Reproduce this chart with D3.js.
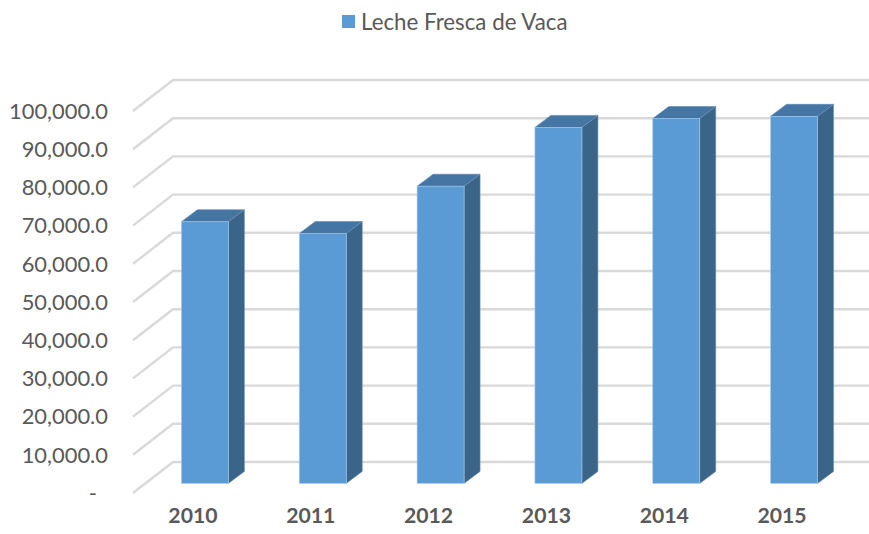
<!DOCTYPE html>
<html>
<head>
<meta charset="utf-8">
<script src="https://cdn.jsdelivr.net/npm/d3@7"></script>
<style>
  html, body { margin: 0; padding: 0; background: #fff; }
  text { font-family: Lato, "Open Sans", sans-serif; fill: #595959; }
</style>
</head>
<body>
<div id="plot"></div>
<script>
const seriesName = "Leche Fresca de Vaca";
const years = ["2010", "2011", "2012", "2013", "2014", "2015"];
const values = [68500, 65400, 77800, 93200, 95500, 96100];
const yTicks = [0, 10000, 20000, 30000, 40000, 50000, 60000, 70000, 80000, 90000, 100000];

const width = 869, height = 534;
const wallDx = 40, wallDy = 31;    // floor depth, front edge to back wall
const barInDx = 13, barInDy = 9.6; // where the bar front sits on the floor
const barDx = 16, barDy = 12;      // depth of the bar itself
const barW = 47;

const svg = d3.select("#plot").append("svg")
  .attr("width", width)
  .attr("height", height)
  .style("display", "block");

const x = d3.scaleBand().domain(years).range([133, 840]);
const y = d3.scaleLinear().domain([0, 100000]).range([493, 111]);

// gridlines: slanted on the side wall, flat on the back wall
const grid = svg.append("g")
  .attr("fill", "none")
  .attr("stroke", "#d9d9d9")
  .attr("stroke-width", 2.4);

grid.selectAll("path")
  .data(yTicks)
  .enter()
  .append("path")
  .attr("d", d => `M${x.range()[0]},${y(d)}L${x.range()[0] + wallDx},${y(d) - wallDy}H${width}`);

// axes
const yAxis = svg.append("g")
  .attr("transform", "translate(133,0)")
  .call(d3.axisLeft(y)
    .tickValues(yTicks)
    .tickSize(0)
    .tickPadding(25)
    .tickFormat(d => d === 0 ? "-" : d3.format(",.1f")(d)));
yAxis.select(".domain").remove();
yAxis.selectAll("text").style("font-size", "21.9px").attr("dy", "0.33em");
yAxis.selectAll("text").filter(d => d === 0).attr("dx", "-11px");

const xAxis = svg.append("g")
  .attr("transform", "translate(0,516)")
  .call(d3.axisBottom(x).tickSize(0).tickPadding(0));
xAxis.select(".domain").remove();
xAxis.selectAll("text")
  .style("font-size", "21.2px")
  .style("font-weight", "700")
  .attr("dx", "1px")
  .attr("dy", "0.35em");

// bars
const bars = svg.selectAll("g.bar")
  .data(years.map((year, i) => ({ year, value: values[i] })))
  .enter()
  .append("g")
  .attr("class", "bar");

const left = d => x(d.year) + x.bandwidth() / 2 + barInDx - barW / 2;
const top_ = d => y(d.value) - barInDy;
const bottom = () => y(0) - barInDy;

bars.append("path")
  .attr("fill", "#4575a2")
  .attr("stroke", "#5d8ab5")
  .attr("stroke-width", 0.6)
  .attr("d", d => `M${left(d)},${top_(d)}l${barDx},${-barDy}h${barW}l${-barDx},${barDy}Z`);

bars.append("path")
  .attr("fill", "#3a6488")
  .attr("stroke", "#6f94b5")
  .attr("stroke-width", 0.6)
  .attr("d", d => `M${left(d) + barW},${top_(d)}l${barDx},${-barDy}V${bottom() - barDy}l${-barDx},${barDy}Z`);

bars.append("rect")
  .attr("x", left)
  .attr("y", top_)
  .attr("width", barW)
  .attr("height", d => bottom() - top_(d))
  .attr("fill", "#5b9bd5")
  .attr("stroke", "#a9cbe9")
  .attr("stroke-width", 0.6);

// legend
svg.append("rect")
  .attr("x", 342)
  .attr("y", 15)
  .attr("width", 13)
  .attr("height", 13)
  .attr("fill", "#5b9bd5");

svg.append("text")
  .attr("x", 361)
  .attr("y", 30)
  .style("font-size", "22.3px")
  .text(seriesName);
</script>
</body>
</html>
